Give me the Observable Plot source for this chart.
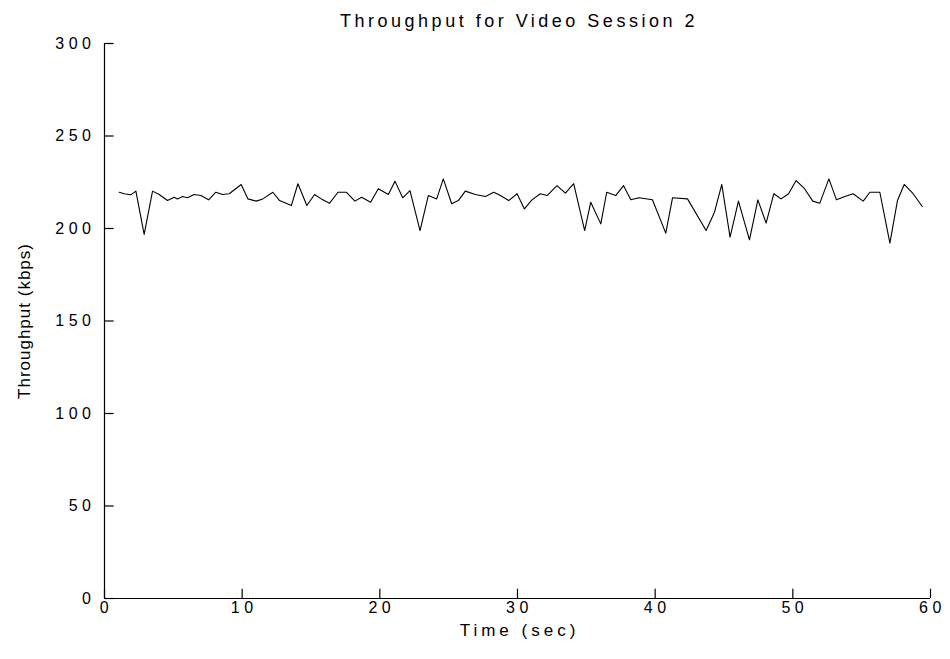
<!DOCTYPE html>
<html>
<head>
<meta charset="utf-8">
<script src="https://cdn.jsdelivr.net/npm/d3@7"></script>
<script src="https://cdn.jsdelivr.net/npm/@observablehq/plot@0.6"></script>
<style>
  body { margin: 0; background: #fff; }
  #title { height: 35px; padding-top: 3px; line-height: 36px; text-align: center;
           font-family: "Liberation Sans", Arial, sans-serif; font-size: 18px; letter-spacing: 3.5px;
           color: #000; padding-left: 88px; white-space: nowrap; }
  #chart svg text { letter-spacing: 4.5px; }
  #chart svg .ylab text { letter-spacing: 1px; }
  #chart svg .xlab text { letter-spacing: 4px; }
</style>
</head>
<body>
<div id="title"></div>
<div id="chart"></div>
<script>
const title = "Throughput for Video Session 2";
const xLabel = "Time (sec)";
const yLabel = "Throughput (kbps)";
const xTicks = [0, 10, 20, 30, 40, 50, 60];
const yTicks = [0, 50, 100, 150, 200, 250, 300];

const times = [1.07, 1.43, 1.91, 2.28, 2.88, 3.49, 3.97, 4.58, 5.06, 5.3, 5.67, 6.03, 6.5, 7.0, 7.56, 8.09, 8.58, 9.06,
  9.93, 10.42, 11.02, 11.5, 12.23, 12.72, 13.57, 14.05, 14.7, 15.26, 15.75, 16.35, 16.96, 17.56,
  18.19, 18.68, 19.33, 19.89, 20.62, 21.1, 21.66, 22.19, 22.92, 23.52, 24.13, 24.61, 25.22, 25.7, 26.21,
  26.94, 27.67, 28.27, 28.76, 29.36, 29.97, 30.5, 31.05, 31.66, 32.15, 32.87, 33.48, 34.08,
  34.88, 35.32, 36.05, 36.48, 37.13, 37.7, 38.23, 38.83, 39.8, 40.77, 41.26, 42.35,
  43.7, 44.31, 44.84, 45.44, 46.05, 46.85, 47.46, 48.06, 48.62, 49.15, 49.69, 50.24, 50.85, 51.45,
  51.96, 52.62, 53.17, 53.78, 54.38, 55.11, 55.6, 56.32, 57.05, 57.6, 58.09, 58.74, 59.4];
const throughput = [219.6, 218.8, 218.2, 220.2, 196.8, 220.2, 218.4, 215.1, 216.9, 216.0, 217.3, 216.6, 218.4, 217.8, 215.5, 219.6, 218.4, 218.8,
  223.8, 216.0, 214.8, 216.0, 219.6, 215.1, 212.4, 224.2, 212.4, 218.4, 216.0, 213.7, 219.6, 219.6,
  214.8, 216.9, 214.2, 221.5, 218.4, 225.6, 216.6, 220.5, 198.9, 217.8, 216.0, 226.8, 213.4, 215.1, 220.2,
  218.4, 217.3, 219.6, 217.8, 215.1, 218.8, 210.6, 215.5, 218.8, 217.8, 223.2, 219.1, 224.2,
  198.9, 214.2, 202.5, 219.6, 217.8, 223.2, 215.5, 216.6, 215.5, 197.5, 216.6, 216.0,
  198.9, 208.8, 223.8, 195.3, 214.8, 193.9, 215.5, 202.9, 218.8, 216.0, 218.8, 225.9, 221.5, 214.8,
  213.7, 226.8, 215.5, 217.3, 218.8, 214.8, 219.6, 219.6, 192.1, 215.1, 223.8, 218.8, 211.9];

document.getElementById("title").textContent = title;
const data = times.map((t, i) => ({t, v: throughput[i]}));

const chart = Plot.plot({
  width: 950,
  height: 621,
  marginTop: 5,
  marginBottom: 61,
  marginLeft: 104,
  marginRight: 20,
  style: {fontFamily: "'Liberation Sans', Arial, sans-serif", fontSize: "16px", color: "#000", background: "#fff", overflow: "visible"},
  x: {domain: [0, 60]},
  y: {domain: [0, 300]},
  marks: [
    Plot.axisX(xTicks, {tickSize: 0, tickPadding: 3, label: null, dx: 2, fill: "#000"}),
    Plot.axisY(yTicks, {tickSize: 0, tickPadding: 9, label: null, fill: "#000"}),
    Plot.ruleX([0], {y1: 0, y2: 300, stroke: "#000", strokeWidth: 1.2}),
    Plot.ruleY([0], {x1: 0, x2: 60, stroke: "#000", strokeWidth: 1.2}),
    Plot.ruleX(xTicks, {x: d => d, y1: 0, y2: 5, stroke: "#000", strokeWidth: 1.2}),
    Plot.ruleY(yTicks, {y: d => d, x1: 0, x2: 0.7, stroke: "#000", strokeWidth: 1.2}),
    Plot.line(data, {x: "t", y: "v", stroke: "#000", strokeWidth: 1.1}),
    Plot.text([xLabel], {frameAnchor: "bottom", dy: 37, dx: 2, fontSize: 17, fill: "#000", className: "xlab"}),
    Plot.text([yLabel], {frameAnchor: "left", textAnchor: "middle", dx: -80, rotate: -90, fontSize: 17, fill: "#000", className: "ylab"})
  ]
});
document.getElementById("chart").appendChild(chart);
</script>
</body>
</html>
